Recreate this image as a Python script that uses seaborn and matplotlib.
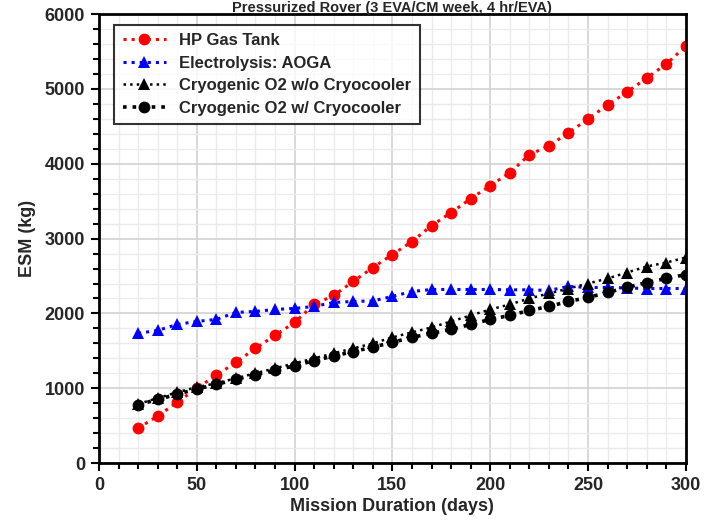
import matplotlib
matplotlib.use("Agg")
import matplotlib.pyplot as plt
from matplotlib.ticker import MultipleLocator
import seaborn as sns
import pandas as pd

days = list(range(20, 301, 10))

hp_gas_tank = [467, 627, 813, 1000, 1173, 1347, 1533, 1707, 1880, 2120,
               2240, 2427, 2613, 2787, 2960, 3173, 3347, 3533, 3707, 3880,
               4120, 4240, 4413, 4600, 4787, 4960, 5147, 5333, 5573]
electrolysis_aoga = [1733, 1773, 1853, 1893, 1920, 2013, 2027, 2053, 2067, 2093,
                     2147, 2160, 2167, 2227, 2293, 2320, 2320, 2320, 2320, 2316,
                     2316, 2307, 2360, 2347, 2347, 2340, 2333, 2333, 2333]
cryo_no_cooler = [790, 867, 947, 1013, 1067, 1133, 1200, 1267, 1333, 1400,
                  1467, 1533, 1600, 1680, 1747, 1813, 1893, 1973, 2053, 2120,
                  2200, 2267, 2333, 2400, 2467, 2547, 2627, 2680, 2747]
cryo_cooler = [780, 850, 920, 990, 1050, 1120, 1180, 1240, 1300, 1370,
               1430, 1490, 1550, 1613, 1680, 1733, 1787, 1853, 1920, 1973,
               2040, 2093, 2160, 2213, 2280, 2347, 2413, 2467, 2520]

series = [
    ("HP Gas Tank", hp_gas_tank, "#ff0000", "o", 2.2),
    ("Electrolysis: AOGA", electrolysis_aoga, "#0000ff", "^", 2.2),
    ("Cryogenic O2 w/o Cryocooler", cryo_no_cooler, "#000000", "^", 1.8),
    ("Cryogenic O2 w/ Cryocooler", cryo_cooler, "#000000", "o", 2.6),
]

sns.set_theme(style="white")
plt.rcParams["font.family"] = ["Liberation Sans", "DejaVu Sans"]
plt.rcParams["font.weight"] = "bold"

fig = plt.figure(figsize=(7.07, 5.25), dpi=100)
ax = fig.add_axes([0.140, 0.118, 0.830, 0.855])

for name, vals, color, marker, lw in series:
    df = pd.DataFrame({"days": days, "esm": vals})
    sns.lineplot(data=df, x="days", y="esm", ax=ax, color=color, marker=marker,
                 markersize=8.5, markeredgewidth=0, linestyle=":", linewidth=lw,
                 label=name)

ax.set_xlim(0, 300)
ax.set_ylim(0, 6000)
ax.xaxis.set_major_locator(MultipleLocator(50))
ax.xaxis.set_minor_locator(MultipleLocator(10))
ax.yaxis.set_major_locator(MultipleLocator(1000))
ax.yaxis.set_minor_locator(MultipleLocator(200))

ax.grid(which="major", color="#d2d2d2", linewidth=1.2)
ax.grid(which="minor", color="#ebebeb", linewidth=1.0)
ax.set_axisbelow(True)

for s in ax.spines.values():
    s.set_color("black")
    s.set_linewidth(2)

ax.tick_params(which="major", direction="out", length=6, width=1.5,
               color="black", labelsize=13, pad=4, bottom=True, left=True)
ax.tick_params(which="minor", direction="out", length=4, width=1.5,
               color="black", bottom=True, left=True)
for lab in ax.get_xticklabels() + ax.get_yticklabels():
    lab.set_fontweight("bold")

ax.set_xlabel("Mission Duration (days)", fontsize=13, fontweight="bold", labelpad=3)
ax.set_ylabel("ESM (kg)", fontsize=13, fontweight="bold", labelpad=6)

leg = ax.legend(loc="upper left", bbox_to_anchor=(0.012, 0.995),
                frameon=True, fancybox=False, borderpad=0.5, handlelength=2.6,
                labelspacing=0.45, prop={"weight": "bold", "size": 12})
leg.get_frame().set_edgecolor("black")
leg.get_frame().set_linewidth(1.5)

fig.text(0.555, 1 - 1 / 525, "Pressurized Rover (3 EVA/CM week, 4 hr/EVA)",
         ha="center", va="top", fontsize=10.5, fontweight="bold")

fig.savefig("out.png", dpi=100)
